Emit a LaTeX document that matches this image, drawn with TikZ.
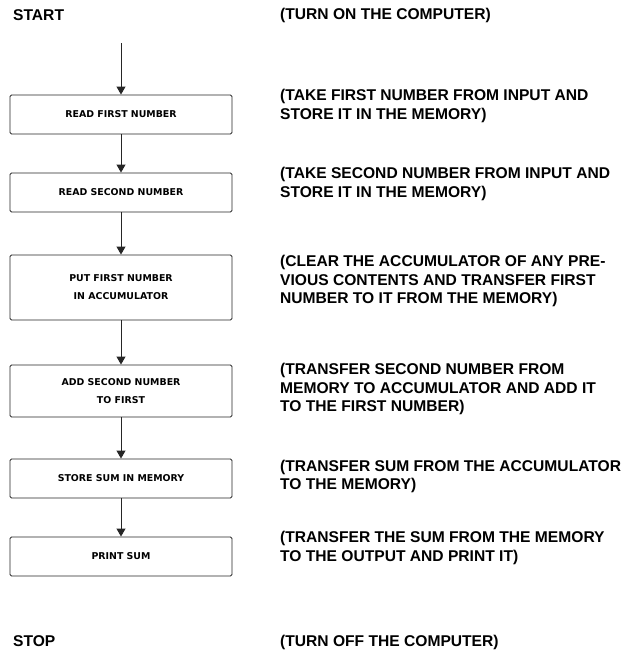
\documentclass[tikz,border=0pt]{standalone}
\usepackage{fontspec}
\setmainfont{Liberation Sans}
\newfontfamily\boxfont{DejaVu Sans}
\usetikzlibrary{arrows.meta}
\begin{document}
\begin{tikzpicture}[x=1pt,y=-1pt,
  stepbox/.style={draw=black!85,line width=0.9pt,rounded corners=1.5pt,minimum width=222pt,inner sep=0pt,
    font=\boxfont\bfseries\fontsize{9.4}{18}\selectfont,align=center},
  note/.style={anchor=west,inner sep=0pt,align=left,font=\bfseries\fontsize{15.6}{18.2}\selectfont},
  flow/.style={draw=black!85,line width=0.9pt,-{Triangle[width=9pt,length=8pt]}}]
\useasboundingbox (0,0) rectangle (626,651);
\node[note] (start) at (13,15) {START};
\node[note] (stop) at (13,641) {STOP};
\coordinate (top) at (121,43);
\node[stepbox,minimum height=39pt] (b1) at (121,114.5) {READ FIRST NUMBER};
\node[stepbox,minimum height=39pt] (b2) at (121,192.5) {READ SECOND NUMBER};
\node[stepbox,minimum height=65pt] (b3) at (121,287.5) {PUT FIRST NUMBER\\IN ACCUMULATOR};
\node[stepbox,minimum height=52pt] (b4) at (121,391) {ADD SECOND NUMBER\\TO FIRST};
\node[stepbox,minimum height=39pt] (b5) at (121,478.5) {STORE SUM IN MEMORY};
\node[stepbox,minimum height=39pt] (b6) at (121,556.5) {PRINT SUM};
\draw[flow] (top) -- (b1.north);
\draw[flow] (b1) -- (b2);
\draw[flow] (b2) -- (b3);
\draw[flow] (b3) -- (b4);
\draw[flow] (b4) -- (b5);
\draw[flow] (b5) -- (b6);
\node[note] (n0) at (280,15) {(TURN ON THE COMPUTER)};
\node[note] (n1) at (280,106) {(TAKE FIRST NUMBER FROM INPUT AND\\STORE IT IN THE MEMORY)};
\node[note] (n2) at (280,184) {(TAKE SECOND NUMBER FROM INPUT AND\\STORE IT IN THE MEMORY)};
\node[note] (n3) at (280,281) {(CLEAR THE ACCUMULATOR OF ANY PRE-\\VIOUS CONTENTS AND TRANSFER FIRST\\NUMBER TO IT FROM THE MEMORY)};
\node[note] (n4) at (280,389) {(TRANSFER SECOND NUMBER FROM\\MEMORY TO ACCUMULATOR AND ADD IT\\TO THE FIRST NUMBER)};
\node[note] (n5) at (280,476.5) {(TRANSFER SUM FROM THE ACCUMULATOR\\TO THE MEMORY)};
\node[note] (n6) at (280,548) {(TRANSFER THE SUM FROM THE MEMORY\\TO THE OUTPUT AND PRINT IT)};
\node[note] (n7) at (280,642) {(TURN OFF THE COMPUTER)};
\end{tikzpicture}
\end{document}
